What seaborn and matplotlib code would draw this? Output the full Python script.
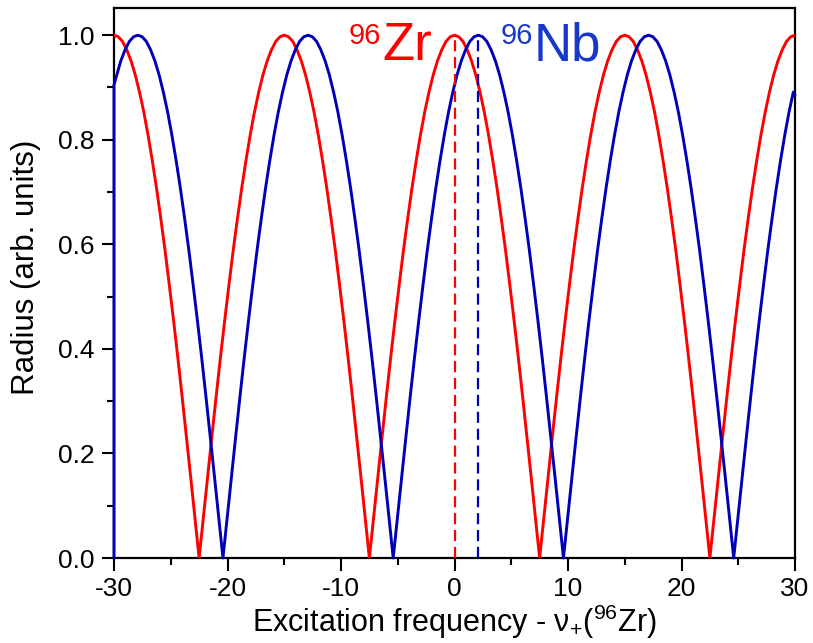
"""Cyclotron excitation radius for 96Zr and 96Nb vs. excitation frequency."""
import matplotlib
matplotlib.use('Agg')
import matplotlib.pyplot as plt
from matplotlib.ticker import MultipleLocator
import numpy as np
import seaborn as sns

# shape of one half-period (peak -> zero -> peak), step 0.375
arc = [1.000, 0.997, 0.988, 0.972, 0.951, 0.924, 0.891, 0.853, 0.809, 0.760,
       0.707, 0.649, 0.588, 0.522, 0.454, 0.383, 0.309, 0.233, 0.156, 0.078,
       0.000, 0.078, 0.156, 0.233, 0.309, 0.383, 0.454, 0.522, 0.588, 0.649,
       0.707, 0.760, 0.809, 0.853, 0.891, 0.924, 0.951, 0.972, 0.988, 0.997]

# 96Zr curve: peaks at 0, +-15, +-30
zr_freq = np.arange(-30, 30.001, 0.375)
zr_radius = arc * 4 + [1.000]

# 96Nb curve: peaks shifted by ~2.1 (first peak at -27.9);
# the trace rises from zero along the left edge
nb_freq = [-30.0, -30.0] + list(np.arange(-29.4, 29.99, 0.375)) + [30.0]
nb_radius = [0.0, 0.905] + arc[36:] + arc * 3 + arc[:35] + [0.885]

zr_centre = 0.0
nb_centre = 2.1

red = '#ff0000'
blue = '#0000b8'
nb_text = '#1838cc'

sns.set_style('ticks')
plt.rcParams['font.family'] = ['Liberation Sans', 'DejaVu Sans']
plt.rcParams['mathtext.fontset'] = 'custom'
plt.rcParams['mathtext.rm'] = 'Liberation Sans'
plt.rcParams['mathtext.it'] = 'Liberation Sans:italic'
plt.rcParams['axes.unicode_minus'] = False
for key in ['text.color', 'axes.labelcolor', 'axes.edgecolor',
            'xtick.color', 'ytick.color']:
    plt.rcParams[key] = 'black'

fig = plt.figure(figsize=(8.13, 6.43), dpi=100)
ax = fig.add_axes([114 / 813, 1 - 558 / 643, 681 / 813, 550 / 643])

sns.lineplot(x=zr_freq, y=zr_radius, color=red, lw=2.1, ax=ax)
sns.lineplot(x=nb_freq, y=nb_radius, color=blue, lw=2.1, ax=ax,
             sort=False, estimator=None, clip_on=False)

# dashed markers at the resonance centres
ax.plot([zr_centre, zr_centre], [0, 1.0], color=red, lw=1.6, ls=(0, (5, 2.6)))
ax.plot([nb_centre, nb_centre], [0, 1.0], color=blue, lw=1.6, ls=(0, (5, 2.6)))

ax.set_xlim(-30, 30)
ax.set_ylim(0, 1.052)
ax.xaxis.set_major_locator(MultipleLocator(10))
ax.xaxis.set_minor_locator(MultipleLocator(5))
ax.yaxis.set_major_locator(MultipleLocator(0.2))
ax.yaxis.set_minor_locator(MultipleLocator(0.1))
ax.tick_params(which='major', direction='out', length=9, width=1.5,
               labelsize=19, pad=5)
ax.tick_params(which='minor', direction='out', length=5, width=1.5)
ax.set_yticks(np.arange(0, 1.01, 0.2))
ax.set_yticklabels([f'{v:.1f}' for v in np.arange(0, 1.01, 0.2)])
for spine in ax.spines.values():
    spine.set_linewidth(1.6)
    spine.set_zorder(1)

ax.set_xlabel(r'Excitation frequency - $\mathrm{\nu}_{+}$($^{96}$Zr)',
              fontsize=22, labelpad=1)
ax.set_ylabel('Radius (arb. units)', fontsize=22.5)
ax.yaxis.set_label_coords(-0.107, 0.529)

# isotope labels
ax.text(0.345, 0.935, '96', color=red, fontsize=21, transform=ax.transAxes)
ax.text(0.394, 0.905, 'Zr', color=red, fontsize=38, transform=ax.transAxes)
ax.text(0.567, 0.935, '96', color=nb_text, fontsize=21, transform=ax.transAxes)
ax.text(0.616, 0.905, 'Nb', color=nb_text, fontsize=38, transform=ax.transAxes)

fig.savefig('out.png', dpi=100)
